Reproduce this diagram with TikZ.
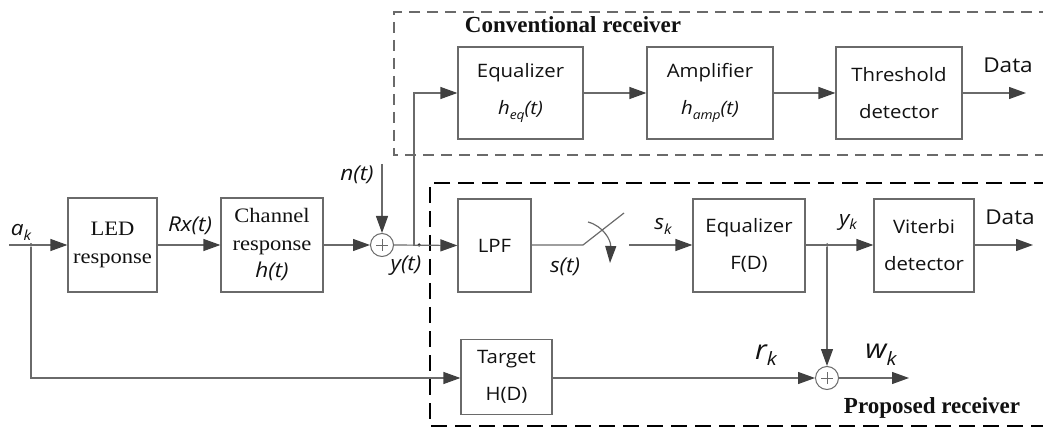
\documentclass[tikz,border=0pt]{standalone}
\usepackage{fontspec}
\setmainfont{Liberation Serif}
\newfontfamily\serifwide{Liberation Serif}[FakeStretch=1.1]
\newfontfamily\sansf{Open Sans}[FakeStretch=1.1]
\usetikzlibrary{arrows.meta}
\definecolor{linegray}{HTML}{6A6A6A}
\definecolor{tipgray}{HTML}{404040}
\definecolor{ink}{HTML}{111111}
\newcommand\lowidx[1]{\raisebox{-0.45ex}{\scalebox{0.68}{#1}}}
\newcommand\ivar[1]{{\sansf\itshape #1}}
\tikzset{
  wire/.style={draw=linegray, line width=1.2pt},
  arr/.style={wire, -{Triangle[length=17pt,width=12pt,color=tipgray]}},
  blk/.style={draw=linegray, line width=1.2pt, inner sep=0pt, align=center, text=ink},
  sansblk/.style={blk, font=\sansf\fontsize{18.5}{37}\selectfont},
  serifblk/.style={blk, font=\serifwide\fontsize{20.5}{27.5}\selectfont},
  summer/.style={draw=linegray, line width=1pt, circle, minimum size=23pt, inner sep=0pt},
  lbl/.style={text=ink, inner sep=0pt, font=\sansf\fontsize{20.5}{22}\selectfont},
  biglbl/.style={text=ink, inner sep=0pt, font=\sansf\fontsize{27}{29}\selectfont},
  title/.style={text=ink, inner sep=0pt, font=\bfseries\fontsize{23}{25}\selectfont},
  dot/.style={circle, fill=ink, minimum size=3.5pt, inner sep=0pt},
}
\begin{document}
\begin{tikzpicture}[x=1pt, y=-1pt]
\useasboundingbox (0,0) rectangle (1043,427);

% receiver frames
\draw[draw=linegray, line width=1.2pt, dash pattern=on 11pt off 7pt]
  (1050,12) -- (394,12) -- (394,155) -- (1050,155);
\draw[draw=black, line width=2.6pt, dash pattern=on 16pt off 8pt]
  (1050,183) -- (430,183) -- (430,426) -- (1050,426);
\node[title] (convt) at (573,25) {Conventional receiver};
\node[title] (propt) at (932,408) {Proposed receiver};

% transmitter and channel
\coordinate (in) at (9,245);
\node[dot] (ak) at (31,245) {};
\node[serifblk, minimum width=89pt, minimum height=94pt] (led) at (112.5,245) {LED\\response};
\node[serifblk, minimum width=102pt, minimum height=94pt] (ch) at (272,245) {Channel\\response\\\ivar{h(t)}};
\node[summer] (add1) at (382,245) {};
\coordinate (nin) at (382,164);
\coordinate (br) at (414,245);
\node[dot] (yt) at (419,245) {};

% conventional receiver blocks
\node[sansblk, minimum width=125pt, minimum height=92pt] (eqc) at (520.5,93) {Equalizer\\\ivar{h\lowidx{eq}(t)}};
\node[sansblk, minimum width=126pt, minimum height=92pt] (amp) at (710,93) {Amplifier\\\ivar{h\lowidx{amp}(t)}};
\node[sansblk, minimum width=126pt, minimum height=92pt] (thr) at (899,93) {Threshold\\detector};
\coordinate (dout1) at (1026,93);

% proposed receiver blocks
\node[sansblk, minimum width=73pt, minimum height=93pt] (lpf) at (494.5,245.5) {LPF};
\coordinate (sw0) at (583,245);
\coordinate (sw1) at (624,213);
\coordinate (sw2) at (629,245);
\node[sansblk, minimum width=112pt, minimum height=93pt] (eqf) at (749,245.5) {Equalizer\\F(D)};
\node[dot] (yk) at (827,245) {};
\node[sansblk, minimum width=100pt, minimum height=93pt] (vit) at (924,245.5) {Viterbi\\detector};
\coordinate (dout2) at (1033,245);
\node[sansblk, minimum width=91pt, minimum height=75pt] (tgt) at (506.5,377) {Target\\H(D)};
\node[summer] (add2) at (827,378) {};
\coordinate (wout) at (909,378);

% summer crosses
\foreach \s in {add1,add2}{
  \draw[linegray, line width=0.8pt] ([xshift=-6pt]\s.center) -- ([xshift=6pt]\s.center)
    ([yshift=-6pt]\s.center) -- ([yshift=6pt]\s.center);
}

% connectors
\draw[arr] (in) -- (led.west);
\draw[arr] (led.east) -- (ch.west);
\draw[arr] (ch.east) -- (add1.west);
\draw[arr] (nin) -- (add1.north);
\draw[arr] (add1.east) -- (lpf.west);
\draw[arr] (br) |- (eqc.west);
\draw[arr] (eqc.east) -- (amp.west);
\draw[arr] (amp.east) -- (thr.west);
\draw[arr] (thr.east) -- (dout1);
\draw[wire] (lpf.east |- sw0) -- (sw0) -- (sw1);
\draw[wire, -{Triangle[length=17pt,width=11pt,color=tipgray]}]
  (588,222) .. controls (603,226) and (611,240) .. (610,263);
\draw[arr] (sw2) -- (eqf.west |- sw2);
\draw[arr] (eqf.east |- yk) -- (vit.west |- yk);
\draw[arr] (vit.east |- dout2) -- (dout2);
\draw[arr] (yk) -- (add2.north);
\draw[arr] (ak) |- (tgt.west |- add2);
\draw[arr] (tgt.east |- add2) -- (add2.west);
\draw[arr] (add2.east) -- (wout);

% signal labels
\node[lbl] (lak) at (21,232) {\ivar{a\lowidx{k}}};
\node[lbl] (lrx) at (190,226) {\ivar{Rx(t)}};
\node[lbl] (lnt) at (357,175) {\ivar{n(t)}};
\node[lbl] (lyt) at (406,266) {\ivar{y(t)}};
\node[lbl] (lst) at (565,267) {\ivar{s(t)}};
\node[lbl] (lsk) at (663,226) {\ivar{s\lowidx{k}}};
\node[lbl] (lyk) at (848,222) {\ivar{y\lowidx{k}}};
\node[biglbl] (lrk) at (766,355) {\ivar{r\lowidx{k}}};
\node[biglbl] (lwk) at (881,355) {\ivar{w\lowidx{k}}};
\node[lbl] (ld1) at (1008,65) {Data};
\node[lbl] (ld2) at (1010,217) {Data};
\end{tikzpicture}
\end{document}
